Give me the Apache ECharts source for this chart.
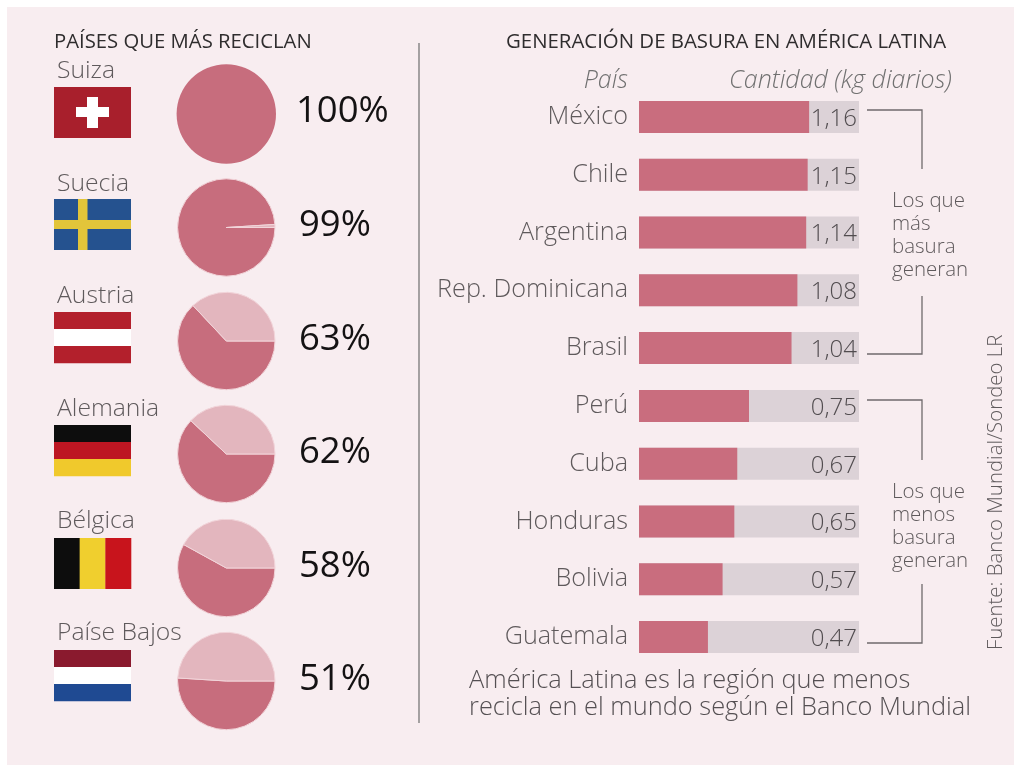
<!DOCTYPE html>
<html><head><meta charset="utf-8">
<style>html,body{margin:0;padding:0;background:#fff}#c{width:1014px;height:766px}</style>
<script src="https://cdn.jsdelivr.net/npm/echarts@6/dist/echarts.min.js"></script>
</head><body><div id="c"></div>
<script>
const recyclers = ['Suiza','Suecia','Austria','Alemania','Bélgica','Paíse Bajos'];
const recyclePct = [100,99,63,62,58,51];
const countries = ['México','Chile','Argentina','Rep. Dominicana','Brasil','Perú','Cuba','Honduras','Bolivia','Guatemala'];
const waste = [1.16,1.15,1.14,1.08,1.04,0.75,0.67,0.65,0.57,0.47];
const trackMax = 1.5;

const FONT = '"Open Sans","Noto Sans",sans-serif';
const DARK = '#c76d7d', LIGHT = '#e3b6be', BG = '#f8edf0', GREY = '#5f5a5c';
const pieY = [114,227.5,341,454,568,681];
const nameY = [70.5,183.5,295.5,408.5,520.5,632.5];
const pctY = [112,226,340,453,567,680];
const flagY = [87,199,312,425,538,650];
const FX = 54, FW = 77, FH = 51;

const txt = (x,y,text,size,fill,extra={}) => ({type:'text',x,y,silent:true,z:5,
  style:Object.assign({text,fontSize:size,fontFamily:FONT,fill,fontWeight:300,verticalAlign:'middle'},extra)});
const rect = (x,y,w,h,fill,z=3) => ({type:'rect',silent:true,z,shape:{x,y,width:w,height:h},style:{fill}});
const line = pts => ({type:'polyline',silent:true,z:3,shape:{points:pts},style:{stroke:'#6f6a6c',lineWidth:1.3,fill:null}});

function hStripes(y,cols){const h=FH/3;return cols.map((c,i)=>rect(FX,y+i*h,FW,h+0.3,c));}
function vStripes(y,cols){const w=FW/3;return cols.map((c,i)=>rect(FX+i*w,y,w+0.3,FH,c));}
const flags = [
  rect(FX,flagY[0],FW,FH,'#a81f2c'), rect(FX+33,flagY[0]+10,11,31,'#fff'), rect(FX+22,flagY[0]+20,33,10,'#fff'),
  rect(FX,flagY[1],FW,FH,'#25528f'), rect(FX+24,flagY[1],9.5,FH,'#e2c53a'), rect(FX,flagY[1]+21,FW,9,'#e2c53a'),
  ...hStripes(flagY[2],['#b3202c','#ffffff','#b3202c']),
  ...hStripes(flagY[3],['#0d0d0d','#bd1622','#f0c92c']),
  ...vStripes(flagY[4],['#0d0d0d','#f0cf2e','#c8141c']),
  ...hStripes(flagY[5],['#8a1a2e','#ffffff','#1f4a92'])
];

const pies = recyclePct.map((p,i)=>({
  type:'pie',center:[226.3,pieY[i]],radius:[0,p===100?49.7:48.7],startAngle:0,clockwise:true,silent:true,z:4,
  label:{show:false},labelLine:{show:false},animation:false,
  itemStyle:{borderColor:p===100?DARK:'#f2d5da',borderWidth:p===100?0:1},
  data:p===100?[{value:p,itemStyle:{color:DARK}}]:[{value:p,itemStyle:{color:DARK}},{value:100-p,itemStyle:{color:LIGHT}}]
}));

const graphics = [
  rect(7,7,1007,758,BG,-10),
  ...flags,
  txt(54,42,'PAÍSES QUE MÁS RECICLAN',20.3,'#2f2d2e',{fontWeight:400}),
  txt(506,42,'GENERACIÓN DE BASURA EN AMÉRICA LATINA',20.4,'#2f2d2e',{fontWeight:400}),
  ...recyclers.map((n,i)=>txt(57,nameY[i],n,24.7,GREY)),
  ...recyclePct.map((p,i)=>txt(p===100?296:299,pctY[i],p+'%',37.5,'#141213',{fontWeight:400,fontSize:36.5})),
  txt(628,81,'País',25,'#707070',{fontStyle:'italic',align:'right'}),
  txt(729,81,'Cantidad (kg diarios)',25,'#707070',{fontStyle:'italic'}),
  ...['Los que','más','basura','generan'].map((s,i)=>txt(892,201.5+i*23,s,20.5,GREY)),
  ...['Los que','menos','basura','generan'].map((s,i)=>txt(892,492.5+i*23,s,20.5,GREY)),
  line([[867,110],[922,110],[922,169]]),
  line([[922,296],[922,354],[867,354]]),
  line([[867,400],[922,400],[922,460]]),
  line([[922,584],[922,643],[867,643]]),
  {type:'line',silent:true,z:3,shape:{x1:419,y1:43,x2:419,y2:723},style:{stroke:'#777',lineWidth:1.3}},
  txt(469,681,'América Latina es la región que menos',25.4,'#555053'),
  txt(469,708,'recicla en el mundo según el Banco Mundial',25.4,'#555053'),
  {type:'text',x:996,y:650,rotation:Math.PI/2,silent:true,z:5,
   style:{text:'Fuente: Banco Mundial/Sondeo LR',fontSize:20.4,fontFamily:FONT,fontWeight:300,fill:GREY,verticalAlign:'middle'}}
];

const chart = echarts.init(document.getElementById('c'),null,{renderer:'canvas'});
chart.setOption({
  animation:false,
  backgroundColor:'#fff',
  graphic:{elements:graphics},
  grid:{left:639,top:88,width:220,height:578,containLabel:false},
  xAxis:{type:'value',min:0,max:trackMax,show:false},
  yAxis:{type:'category',inverse:true,data:countries,z:6,
    axisLine:{show:false},axisTick:{show:false},splitLine:{show:false},
    axisLabel:{margin:11,fontSize:25.2,fontFamily:FONT,fontWeight:300,color:GREY,padding:[0,0,9,0]}},
  series:[
    {type:'bar',silent:true,barWidth:32,barGap:'-100%',z:2,
     data:waste.map(()=>trackMax),itemStyle:{color:'#dcd2d7'},
     label:{show:true,position:'insideRight',distance:2,offset:[0,2],fontSize:24,fontFamily:FONT,fontWeight:300,color:'#514c4f',
       formatter:p=>waste[p.dataIndex].toFixed(2).replace('.',',')}},
    {type:'bar',silent:true,barWidth:32,barGap:'-100%',z:3,data:waste,itemStyle:{color:'#c96d7e'}},
    ...pies
  ]
});
</script></body></html>
